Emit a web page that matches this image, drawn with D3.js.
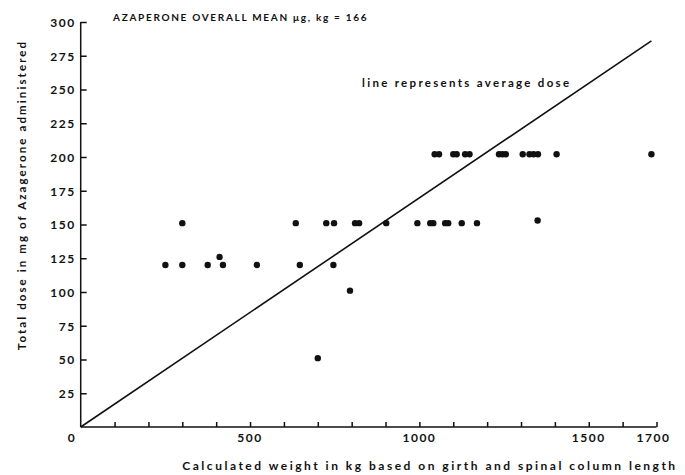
<!DOCTYPE html>
<html>
<head>
<meta charset="utf-8">
<script src="https://cdn.jsdelivr.net/npm/d3@7"></script>
<style>
  body { margin: 0; background: #fff; }
  text { font-family: Lato, "DejaVu Sans", sans-serif; font-weight: bold; fill: #111; }
</style>
</head>
<body>
<script>
// dose rows (weight kg, dose mg)
var dose120 = [250, 300, 375, 420, 520, 647, 746];
var dose125 = [410];
var dose150 = [300, 635, 725, 748, 810, 822, 902, 994, 1032, 1041, 1076, 1085, 1125, 1170];
var dose153 = [1349];
var dose100 = [795];
var dose50 = [700];
var dose200 = [1045, 1058, 1100, 1110, 1135, 1148, 1235, 1245, 1255, 1305, 1325, 1337, 1350, 1405, 1685];

var xLabels = [0, 500, 1000, 1500, 1700];
var yTicks = d3.range(25, 301, 25);
var lineEnd = [1685, 286];   // average dose line, from 0,0

// build point list
var points = [];
function addRow(xs, y) { xs.forEach(function(x) { points.push({x: x, y: y}); }); }
addRow(dose120, 120);
addRow(dose125, 126);
addRow(dose150, 151);
addRow(dose153, 153);
addRow(dose100, 101);
addRow(dose50, 51);
addRow(dose200, 202);

const width = 685, height = 475;

var xScale = d3.scaleLinear().domain([0, 1700]).range([80.7, 656.5]);
var yScale = d3.scaleLinear().domain([0, 300]).range([427, 22]);

var svg = d3.select("body").append("svg")
    .attr("width", width)
    .attr("height", height);

// y axis, ticks pointing into the plot
var yAxis = d3.axisLeft(yScale).tickValues(yTicks).tickSize(-6).tickPadding(5);
var gy = svg.append("g").attr("transform", "translate(" + xScale(0) + ",0)").call(yAxis);
gy.select(".domain").attr("d", "M0," + yScale(0) + "V" + yScale(300));
gy.selectAll("text").style("font-size", "12px").style("letter-spacing", "1.5px").attr("dy", "0.36em");

// x axis, one tick each 100 kg
var xAxis = d3.axisBottom(xScale).tickValues(d3.range(100, 1701, 100)).tickSize(-5).tickFormat("");
var gx = svg.append("g").attr("transform", "translate(0," + yScale(0) + ")").call(xAxis);
gx.select(".domain").attr("d", "M" + xScale(0) + ",0H" + xScale(1700));

svg.selectAll(".domain, .tick line").attr("stroke", "#111").attr("stroke-width", 1.5);

svg.selectAll(".xlab").data(xLabels).enter().append("text")
    .attr("class", "xlab")
    .attr("x", function(d) { return d == 0 ? 72 : (d == 1700 ? xScale(d) - 3 : xScale(d)); })
    .attr("y", 442)
    .attr("text-anchor", "middle")
    .style("font-size", "12px")
    .style("letter-spacing", "1.5px")
    .text(function(d) { return d; });

// average dose line
svg.append("line")
    .attr("x1", xScale(0)).attr("y1", yScale(0))
    .attr("x2", xScale(lineEnd[0])).attr("y2", yScale(lineEnd[1]))
    .attr("stroke", "#111")
    .attr("stroke-width", 1.6);

// dots
svg.selectAll("circle").data(points).enter().append("circle")
    .attr("cx", function(d) { return xScale(d.x); })
    .attr("cy", function(d) { return yScale(d.y); })
    .attr("r", 3.2)
    .attr("fill", "#111");

// texts
svg.append("text")
    .attr("x", 113).attr("y", 21)
    .style("font-size", "10px")
    .style("letter-spacing", "1.7px")
    .text("AZAPERONE OVERALL MEAN \u03bcg, kg = 166");

svg.append("text")
    .attr("x", 362).attr("y", 87)
    .style("font-size", "11.5px")
    .style("letter-spacing", "2.3px")
    .text("line represents average dose");

svg.append("text")
    .attr("transform", "translate(26,195) rotate(-90)")
    .attr("text-anchor", "middle")
    .style("font-size", "11.5px")
    .style("letter-spacing", "2.1px")
    .text("Total dose in mg of Azagerone administered");

svg.append("text")
    .attr("x", 430).attr("y", 470)
    .attr("text-anchor", "middle")
    .style("font-size", "12px")
    .style("letter-spacing", "2.5px")
    .text("Calculated weight in kg based on girth and spinal column length");
</script>
</body>
</html>
